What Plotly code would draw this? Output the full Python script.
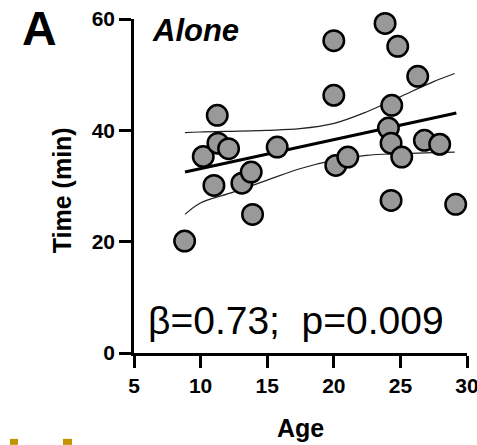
import plotly.graph_objects as go

# ---- data ----
age = [8.8, 10.2, 11.0, 11.25, 11.3, 12.1, 13.1, 13.8, 13.9, 15.75,
       20.0, 20.0, 20.15, 21.05, 23.85, 24.1, 24.3, 24.3, 24.35, 24.8,
       25.1, 26.3, 26.8, 27.95, 29.15]
time_min = [20.1, 35.3, 30.1, 42.7, 37.7, 36.7, 30.5, 32.5, 24.9, 37.0,
            56.1, 46.3, 33.7, 35.2, 59.2, 40.4, 37.7, 27.4, 44.5, 55.1,
            35.2, 49.7, 38.2, 37.5, 26.7]

fit_x = [8.83, 29.2]
fit_y = [32.5, 43.1]

upper_x = [8.83, 9.95, 14.95, 17.45, 19.95, 22.45, 24.95, 27.45, 29.08]
upper_y = [39.6, 39.7, 40.0, 40.3, 41.2, 43.3, 46.0, 48.7, 50.2]
lower_x = [8.83, 9.95, 12.45, 14.95, 17.45, 19.95, 22.45, 24.95, 27.45, 29.08]
lower_y = [24.9, 26.9, 28.9, 31.0, 33.1, 34.6, 35.5, 35.8, 36.0, 36.1]

x_ticks = [5, 10, 15, 20, 25, 30]
y_ticks = [0, 20, 40, 60]

W, H = 477, 445
L, R, T, B = 134, 10, 18.5, 92
PW, PH = W - L - R, H - T - B


def px(x):
    return (x - L) / PW


def py(y):
    return (H - B - y) / PH


FONT = "Arial, Liberation Sans, sans-serif"

fig = go.Figure()
for bx, by in [(upper_x, upper_y), (lower_x, lower_y)]:
    fig.add_trace(go.Scatter(x=bx, y=by, mode="lines", line=dict(color="#222", width=1.2, shape="spline"),
                             hoverinfo="skip", showlegend=False))
fig.add_trace(go.Scatter(x=fit_x, y=fit_y, mode="lines", line=dict(color="black", width=3),
                         showlegend=False))
fig.add_trace(go.Scatter(x=age, y=time_min, mode="markers", cliponaxis=False,
                         marker=dict(size=20.5, color="#999999", line=dict(color="black", width=2.5)),
                         showlegend=False))

tick_font = dict(family=FONT, size=21, color="black", weight="bold")
fig.update_layout(
    width=W, height=H, margin=dict(l=L, r=R, t=T, b=B, autoexpand=False),
    paper_bgcolor="white", plot_bgcolor="white",
    xaxis=dict(range=[5, 30], tickvals=x_ticks, showline=True, linecolor="black", linewidth=2.5,
               ticks="outside", ticklen=12, tickwidth=2.5, tickcolor="black", showgrid=False, zeroline=False,
               tickfont=tick_font, ticklabeloverflow="allow", automargin=False),
    yaxis=dict(range=[0, 60], tickvals=y_ticks, showline=True, linecolor="black", linewidth=2.5,
               ticks="outside", ticklen=12, tickwidth=2.5, tickcolor="black", showgrid=False, zeroline=False,
               tickfont=tick_font, ticklabeloverflow="allow", automargin=False),
    font=dict(family=FONT, color="black"),
)

ann = [
    dict(text="A", x=px(40), y=py(28), size=48, weight="bold", style="normal"),
    dict(text="Alone", x=px(195), y=py(30), size=31, weight="bold", style="italic"),
    dict(text="β=0.73;  p=0.009", x=px(296), y=py(320), size=39, weight="normal", style="normal"),
    dict(text="Age", x=px(300), y=py(428), size=25, weight="bold", style="normal"),
]
for a in ann:
    fig.add_annotation(text=a["text"], x=a["x"], y=a["y"], xref="paper", yref="paper", showarrow=False,
                       xanchor="center", yanchor="middle",
                       font=dict(family=FONT, size=a["size"], color="black", weight=a["weight"], style=a["style"]))
fig.add_annotation(text="Time (min)", x=px(62), y=py(190), xref="paper", yref="paper", showarrow=False,
                   textangle=-90, xanchor="center", yanchor="middle",
                   font=dict(family=FONT, size=25, color="black", weight="bold"))

for x0, x1 in [(10, 18), (63, 72)]:
    fig.add_shape(type="rect", xref="paper", yref="paper", x0=px(x0), x1=px(x1), y0=py(445), y1=py(439),
                  fillcolor="#C29400", line=dict(width=0))

fig.write_html("out.html")
